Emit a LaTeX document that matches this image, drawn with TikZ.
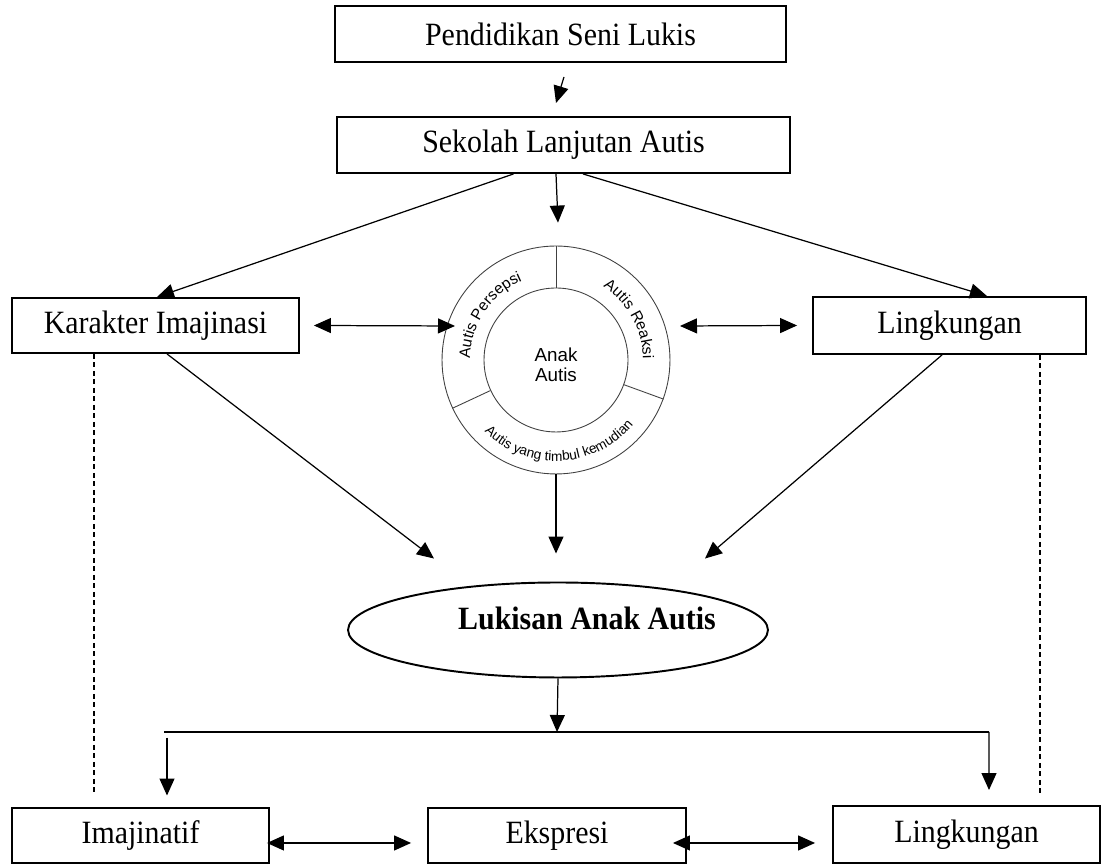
\documentclass[tikz,border=0pt]{standalone}
\usepackage{fontspec}
\setmainfont{Liberation Serif}[FakeStretch=0.92]
\setsansfont{Liberation Sans}
\usetikzlibrary{arrows.meta,calc,shapes.geometric,decorations.text}
\begin{document}
\begin{tikzpicture}[x=0.02cm,y=0.02cm,
  boxnode/.style={draw, line width=1.1pt, inner sep=0pt, font=\fontsize{18.5}{21}\selectfont},
  arr/.style={line width=0.7pt, -{Triangle[length=0.34cm,width=0.3cm]}},
  darr/.style={line width=0.7pt, {Triangle[length=0.34cm,width=0.3cm]}-{Triangle[length=0.34cm,width=0.3cm]}},
  ring/.style={draw=black!75, line width=0.5pt},
  dashline/.style={line width=0.6pt, dash pattern=on 0.1cm off 0.07cm},
  arctext/.style={decorate, decoration={text along path, text align=center, text={#1}}},
]
\useasboundingbox (0,0) rectangle (1103,864);

% boxes
\node[boxnode, minimum width=9.02cm, minimum height=1.12cm] (pend) at (560.5,830) {Pendidikan Seni Lukis};
\node[boxnode, minimum width=9.06cm, minimum height=1.12cm] (sek) at (563.5,719) {Sekolah Lanjutan Autis};
\node[boxnode, minimum width=5.74cm, minimum height=1.1cm] (kar) at (155.5,538.5) {Karakter Imajinasi\hspace{0.44cm}};
\node[boxnode, minimum width=5.46cm, minimum height=1.14cm] (ling1) at (949.5,538.5) {Lingkungan};
\node[boxnode, minimum width=5.14cm, minimum height=1.1cm] (imaj) at (140.5,28.5) {Imajinatif};
\node[boxnode, minimum width=5.16cm, minimum height=1.1cm] (eksp) at (557,28.5) {Ekspresi};
\node[boxnode, minimum width=5.34cm, minimum height=1.14cm] (ling2) at (966.5,29.5) {Lingkungan};

% circle diagram
\node[circle, ring, minimum size=4.56cm, inner sep=0pt] (outer) at (556,504) {};
\node[circle, ring, minimum size=2.88cm, inner sep=0pt] (inner) at (556,504) {};
\node[align=center, inner sep=0pt, font=\sffamily\fontsize{10.7}{11.6}\selectfont] (innertxt) at (556,499) {Anak\\Autis};
\draw[ring] (inner.90) -- (outer.90);
\draw[ring] (inner.205) -- (outer.205);
\draw[ring] (inner.-20) -- (outer.-20);
\path[arctext={|\sffamily\fontsize{8.8}{10}\selectfont|Autis Persepsi}]
  ($(inner.center)+(192:1.72cm)$) arc[start angle=192, end angle=100, radius=1.72cm];
\path[arctext={|\sffamily\fontsize{8.8}{10}\selectfont|Autis Reaksi}]
  ($(inner.center)+(72:1.74cm)$) arc[start angle=72, end angle=-14, radius=1.74cm];
\path[arctext={|\sffamily\fontsize{7.8}{9}\selectfont|Autis yang timbul kemudian}]
  ($(inner.center)+(210:2.02cm)$) arc[start angle=210, end angle=335, radius=2.02cm];

% ellipse
\node[ellipse, draw, line width=1.1pt, minimum width=8.4cm, minimum height=1.9cm, inner sep=0pt] (ell) at (558,234) {};
\node[font=\bfseries\fontsize{18.5}{21}\selectfont] (elltxt) at (587,246) {Lukisan Anak Autis};

% connectors
\draw[arr] ($(pend.south)+(3.5,-14)$) -- ($(sek.north)+(-7.5,13)$);
\draw[arr] ($(sek.south)+(-7.5,0)$) -- ($(outer.north)+(2,23)$);
\draw[arr] ($(sek.south)+(-50,0)$) -- ($(kar.north)+(1.5,0)$);
\draw[arr] ($(sek.south)+(19.5,0)$) -- ($(ling1.north)+(37.5,0)$);
\draw[darr] ($(kar.east)+(14,0)$) -- ($(outer.center)+(-101,34)$);
\draw[darr] ($(outer.center)+(124,34)$) -- ($(ling1.west)+(-15,0)$);
\draw[arr] ($(kar.south)+(11.5,0)$) -- ($(ell.north)+(-124,23)$);
\draw[arr] ($(ling1.south)+(-7.5,0)$) -- ($(ell.north)+(147,23)$);
\draw[arr] (outer.south) -- ($(ell.north)+(-2,28)$);

% bracket
\coordinate (brL) at (164,132);
\coordinate (brR) at (989,132);
\coordinate (brM) at (557,132);
\draw[arr] (ell.south) -- (brM);
\draw[line width=1.1pt] (brL) -- (brR);
\draw[arr] (brR) -- ($(ling2.north)+(22.5,15)$);
\draw[arr] ($(imaj.north)+(26.5,69.5)$) -- ($(imaj.north)+(26.5,11.5)$);

% bottom double arrows
\draw[darr] ($(imaj.east)+(-3,-7.5)$) -- ($(eksp.west)+(-16,-7.5)$);
\draw[darr] ($(eksp.east)+(-14,-7.5)$) -- ($(ling2.west)+(-17,-8.5)$);

% dashed lines
\draw[dashline] ($(kar.south)+(-61.5,0)$) -- ++(0,-440);
\draw[dashline] ($(ling1.south)+(90.5,0)$) -- ++(0,-440);
\end{tikzpicture}
\end{document}
